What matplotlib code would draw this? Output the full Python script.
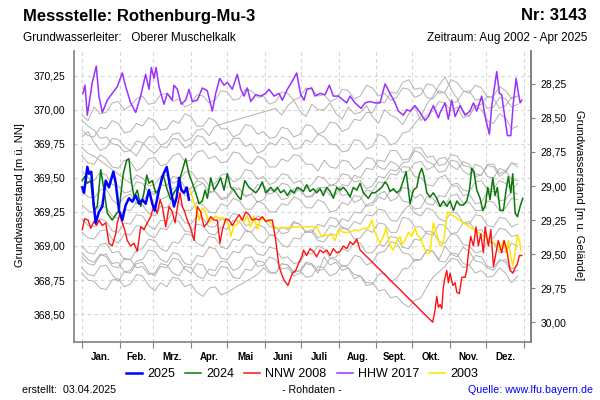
import numpy as np
import matplotlib
matplotlib.use('Agg')
import matplotlib.pyplot as plt
from matplotlib.lines import Line2D
from matplotlib.ticker import FixedLocator, FuncFormatter

plt.rcParams['font.family'] = ['Liberation Sans', 'DejaVu Sans']

# Geländehöhe [m ü. NN], used for the right axis (m u. Gelände)
ground = 398.44

month_starts = [0, 31, 59, 90, 120, 151, 181, 212, 243, 273, 304, 334, 365]
month_labels = ['Jan.', 'Feb.', 'Mrz.', 'Apr.', 'Mai', 'Juni', 'Juli', 'Aug.',
                'Sept.', 'Okt.', 'Nov.', 'Dez.']
left_ticks = [368.50, 368.75, 369.00, 369.25, 369.50, 369.75, 370.00, 370.25]
right_ticks = [28.00, 28.25, 28.50, 28.75, 29.00, 29.25, 29.50, 29.75, 30.00]

# --- highlighted years (day of year, level m ü. NN) ---
days_2025 = [0.2, 1.7, 4.4, 5.8, 7.7, 9.3, 11.3, 14.0, 16.8, 19.6, 22.3, 25.9, 27.9, 30.6,
             33.3, 36.1, 38.8, 41.6, 44.4, 47.1, 49.8, 52.6, 55.4, 58.1, 60.1, 63.6, 66.4,
             70.0, 73.3, 76.0, 78.3, 80.2, 82.1, 84.3, 86.5, 88.4]
level_2025 = [369.43, 369.39, 369.58, 369.53, 369.545, 369.34, 369.17, 369.25, 369.29, 369.48,
              369.43, 369.545, 369.46, 369.26, 369.19, 369.30, 369.35, 369.325, 369.37, 369.31,
              369.34, 369.31, 369.41, 369.31, 369.26, 369.41, 369.51, 369.58, 369.41, 369.29,
              369.36, 369.50, 369.41, 369.39, 369.43, 369.34]

days_2024 = [0.2, 2.2, 4.4, 7.2, 9.9, 12.6, 15.5, 18.2, 20.9, 25.0, 27.9, 30.6, 34.1, 36.9,
             38.8, 40.7, 43.0, 45.7, 48.5, 51.2, 53.5, 55.4, 58.1, 60.9, 63.6, 67.2, 70.5,
             73.3, 76.0, 78.8, 82.1, 85.7, 88.4, 91.2, 94.0, 96.7, 99.4, 101.7, 103.6, 106.4,
             109.1, 111.8, 114.6, 117.4, 120.1, 122.9, 125.6, 128.3, 131.2, 134.5, 138.0,
             140.7, 143.6, 146.3, 149.0, 151.8, 156.0, 158.7, 161.4, 164.2, 166.9, 169.7,
             172.5, 175.2, 177.9, 180.2, 182.9, 185.7, 188.4, 191.2, 193.9, 196.7, 199.4,
             202.2, 205.0, 207.7, 210.5, 213.2, 216.0, 218.8, 221.5, 224.2, 227.0, 229.8,
             232.5, 236.6, 239.4, 242.1, 244.9, 247.7, 250.4, 252.3, 254.5, 257.3, 260.1,
             262.8, 265.5, 267.8, 269.7, 271.1, 273.8, 276.6, 278.8, 280.7, 282.6, 284.9,
             287.6, 290.3, 293.1, 295.9, 298.6, 301.4, 304.1, 306.9, 309.7, 312.4, 315.1,
             317.9, 320.1, 322.1, 323.9, 326.2, 328.9, 331.2, 333.1, 335.3, 337.2, 339.4,
             341.3, 343.2, 345.5, 348.2, 350.4, 352.3, 354.3, 355.9, 357.9, 359.8, 362.0, 364.2]
level_2024 = [369.48, 369.51, 369.46, 369.48, 369.26, 369.29, 369.56, 369.41, 369.24, 369.19,
              369.23, 369.26, 369.53, 369.63, 369.64, 369.48, 369.36, 369.41, 369.29, 369.39,
              369.52, 369.46, 369.48, 369.39, 369.41, 369.52, 369.41, 369.34, 369.39, 369.43,
              369.53, 369.64, 369.53, 369.46, 369.39, 369.31, 369.33, 369.41, 369.35, 369.50,
              369.41, 369.45, 369.50, 369.41, 369.53, 369.43, 369.41, 369.37, 369.34, 369.48,
              369.43, 369.41, 369.39, 369.42, 369.47, 369.39, 369.43, 369.40, 369.43, 369.39,
              369.41, 369.37, 369.41, 369.39, 369.43, 369.42, 369.40, 369.45, 369.40, 369.42,
              369.39, 369.42, 369.37, 369.43, 369.40, 369.35, 369.43, 369.41, 369.43, 369.40,
              369.36, 369.43, 369.41, 369.46, 369.39, 369.35, 369.39, 369.39, 369.41, 369.43,
              369.47, 369.45, 369.40, 369.42, 369.39, 369.41, 369.48, 369.545, 369.41, 369.31,
              369.41, 369.43, 369.53, 369.57, 369.51, 369.39, 369.36, 369.39, 369.35, 369.29,
              369.33, 369.29, 369.33, 369.26, 369.33, 369.30, 369.30, 369.33, 369.41, 369.57,
              369.545, 369.41, 369.35, 369.26, 369.29, 369.43, 369.34, 369.50, 369.37, 369.43,
              369.26, 369.26, 369.41, 369.51, 369.39, 369.53, 369.24, 369.215, 369.29, 369.35]

days_2008 = [0.2, 2.2, 5.0, 7.2, 9.9, 12.1, 14.0, 16.8, 19.6, 22.3, 25.0, 27.9, 29.2, 31.4,
             33.3, 35.3, 37.4, 40.2, 43.0, 45.7, 48.5, 51.2, 54.0, 56.8, 59.5, 62.2, 64.5,
             66.4, 69.2, 71.9, 74.6, 76.9, 79.3, 81.0, 82.9, 84.9, 87.0, 89.8, 92.6, 95.3,
             98.1, 100.8, 103.6, 106.4, 109.1, 111.8, 114.0, 116.0, 118.8, 121.5, 124.2,
             127.0, 129.8, 132.5, 135.3, 138.0, 140.7, 143.6, 146.3, 149.0, 151.8, 154.5,
             157.3, 160.1, 162.8, 164.7, 166.9, 170.2, 173.8, 176.6, 179.3, 182.1, 182.9,
             185.7, 188.4, 191.2, 193.9, 196.7, 199.4, 202.2, 205.0, 207.7, 210.5, 213.2,
             216.0, 218.8, 221.5, 224.2, 227.0, 229.8, 289.8, 291.7, 293.1, 294.5, 295.9,
             297.3, 298.6, 300.0, 301.4, 302.7, 304.1, 306.4, 308.3, 309.7, 311.8, 313.8,
             316.5, 317.9, 319.3, 321.2, 323.4, 325.6, 327.5, 329.5, 331.7, 333.1, 335.8,
             337.8, 340.0, 342.1, 344.0, 346.8, 348.8, 351.0, 353.7, 356.0, 357.9, 359.8,
             361.4, 363.4]
level_2008 = [369.12, 369.20, 369.19, 369.13, 369.18, 369.15, 369.19, 369.15, 369.17, 369.02,
              369.00, 369.09, 369.17, 369.24, 369.17, 369.12, 369.04, 369.00, 369.02, 368.96,
              369.14, 369.12, 369.17, 369.215, 369.30, 369.24, 369.34, 369.29, 369.14, 369.29,
              369.25, 369.17, 369.31, 369.39, 369.29, 369.25, 369.19, 369.13, 369.04, 369.29,
              369.25, 369.14, 369.17, 369.215, 369.19, 369.19, 369.02, 369.12, 369.20, 369.19,
              369.15, 369.19, 369.23, 369.19, 369.25, 369.23, 369.19, 369.20, 369.19, 369.215,
              369.18, 369.19, 369.19, 369.04, 368.85, 368.80, 368.75, 368.71, 368.80, 368.82,
              368.88, 368.93, 368.97, 368.93, 368.98, 368.96, 368.92, 368.97, 368.95, 368.97,
              368.93, 368.98, 368.95, 368.96, 369.00, 368.98, 369.03, 369.01, 369.05, 368.97,
              368.44, 368.53, 368.63, 368.55, 368.57, 368.54, 368.70, 368.77, 368.82, 368.73,
              368.80, 368.71, 368.73, 368.66, 368.65, 368.77, 368.77, 368.82, 368.95, 369.07,
              369.00, 369.14, 369.00, 369.09, 368.95, 369.14, 369.00, 369.12, 368.85, 368.95,
              369.04, 368.95, 369.04, 368.97, 368.82, 368.80, 368.84, 368.87, 368.93, 368.93]

days_2017 = [0.8, 2.5, 4.4, 8.5, 11.8, 14.0, 16.8, 20.9, 25.0, 29.2, 33.3, 36.1, 40.2, 44.4,
             48.5, 52.6, 55.4, 57.3, 59.5, 61.2, 63.6, 67.8, 70.5, 74.6, 76.0, 78.8, 82.1,
             85.7, 88.4, 91.2, 95.3, 99.4, 103.5, 107.7, 110.5, 113.8, 117.4, 120.1, 124.2,
             128.3, 131.2, 133.9, 136.6, 139.4, 143.5, 147.7, 151.8, 154.5, 158.7, 162.8,
             165.5, 169.7, 173.8, 177.4, 180.7, 183.5, 185.8, 189.8, 192.6, 196.7, 200.8,
             204.4, 207.7, 211.8, 215.9, 218.7, 221.5, 225.6, 230.6, 233.9, 238.0, 242.1,
             246.3, 250.4, 254.5, 258.7, 261.4, 265.5, 268.3, 271.1, 275.2, 279.3, 283.5,
             286.2, 290.3, 294.5, 295.9, 300.0, 302.7, 305.5, 308.3, 312.4, 316.5, 320.6,
             323.4, 326.2, 330.3, 333.1, 336.6, 338.6, 342.7, 344.9, 346.8, 349.6, 351.5,
             354.3, 356.4, 358.7, 360.6, 362.0, 363.4]
level_2017 = [370.12, 370.18, 369.96, 370.20, 370.32, 370.10, 369.98, 370.07, 370.12, 370.17,
              370.27, 370.17, 370.05, 369.98, 370.10, 370.26, 370.15, 370.31, 370.23, 370.31,
              370.17, 370.04, 370.12, 370.07, 370.18, 370.15, 370.04, 370.07, 370.15, 370.06,
              370.07, 370.16, 370.14, 369.99, 370.12, 370.23, 370.18, 370.20, 370.15, 370.26,
              370.15, 370.10, 370.16, 370.06, 370.11, 370.10, 370.12, 370.15, 370.10, 370.12,
              370.07, 370.15, 370.21, 370.27, 370.11, 370.07, 370.15, 370.16, 370.10, 370.12,
              370.11, 370.18, 370.10, 370.10, 370.07, 370.05, 370.10, 370.05, 370.01, 370.05,
              370.06, 370.05, 370.05, 370.19, 370.12, 370.05, 369.99, 369.96, 370.00, 369.99,
              370.03, 369.98, 369.92, 369.95, 370.03, 369.94, 369.98, 370.05, 369.93, 370.07,
              369.95, 370.03, 369.96, 369.99, 370.05, 369.99, 370.10, 369.95, 369.82, 370.03,
              370.28, 370.12, 370.11, 369.93, 369.81, 369.81, 370.05, 370.23, 370.12, 370.05,
              370.07]

days_2003 = [88.4, 89.8, 92.6, 95.3, 96.7, 99.4, 102.2, 105.0, 107.7, 110.5, 113.2, 116.0,
             118.8, 121.5, 122.9, 125.6, 128.3, 131.2, 133.9, 136.6, 139.4, 142.1, 144.9,
             147.7, 151.8, 156.0, 158.7, 180.2, 193.9, 196.7, 199.4, 202.2, 206.4, 209.1,
             211.8, 216.0, 221.5, 225.6, 228.3, 232.5, 236.6, 239.4, 242.1, 246.3, 249.0,
             251.2, 254.5, 257.3, 260.1, 262.8, 264.2, 266.9, 269.7, 272.5, 275.2, 277.1,
             279.3, 282.1, 284.9, 287.6, 290.3, 293.1, 295.9, 298.6, 300.3, 301.9, 344.0,
             345.5, 348.2, 350.4, 352.3, 354.3, 355.9, 357.9, 359.8, 361.4, 362.6]
level_2003 = [369.42, 369.40, 369.31, 369.25, 369.19, 369.28, 369.25, 369.17, 369.20, 369.22,
              369.20, 369.21, 369.19, 369.15, 369.07, 369.15, 369.16, 369.20, 369.18, 369.22,
              369.14, 369.22, 369.12, 369.20, 369.19, 369.17, 369.13, 369.14, 369.14, 369.09,
              369.07, 369.08, 369.08, 369.04, 369.12, 369.10, 369.10, 369.12, 369.11, 369.13,
              369.13, 369.19, 369.10, 369.02, 369.07, 369.13, 369.00, 368.97, 369.04, 369.07,
              369.01, 369.04, 369.10, 369.07, 369.13, 369.08, 369.06, 369.00, 368.95, 368.95,
              369.17, 369.09, 369.00, 369.02, 369.14, 369.25, 369.00, 368.97, 369.04, 368.95,
              369.04, 368.92, 368.86, 368.95, 369.08, 369.04, 368.97]

# --- other years (grey), read every 5 days; nan = gap in the record ---
nan = np.nan
gray_days = np.arange(0, 361, 5)
gray_01 = [369.96, 369.92, 370.02, 369.97, 369.98, 370.05, 370.06, 370.00, 370.03, 370.08, 370.10, 370.04,
           370.05, 370.11, 370.12, 370.06, 370.08, 370.02, 370.04, 370.11, 370.10, 370.05, 370.07, 370.14,
           370.13, 370.07, 370.08, 370.15, 370.14, 370.09, 370.10, 370.04, 370.06, 370.13, 370.12, 370.07,
           370.09, 370.16, 370.15, 370.10, 370.11, 370.06, 370.08, 370.15, 370.14, 370.08, 370.10, 370.18,
           370.16, 370.10, 370.12, 370.07, 370.09, 370.16, 370.15, 370.09, 370.11, 370.19, 370.18, 370.12,
           370.13, 370.22, 370.20, 370.14, 370.12, 370.18, 370.16, 370.09, 370.10, 370.17, 370.14, 370.08,
           370.10]
gray_02 = [369.80, 369.84, 369.76, 369.70, 369.72, 369.79, 369.78, 369.73, 369.70, 369.66, 369.74, 369.80,
           369.80, 369.74, 369.76, 369.82, 369.83, 369.77, 369.79, 369.85, 369.86, 369.81, 369.88, nan,
           nan, nan, nan, nan, nan, nan, nan, nan, 370.01, 369.96, 370.03, 370.07,
           369.99, 369.95, 370.04, 370.00, 370.00, 370.05, 369.97, 369.93, 370.02, 369.97, 369.98, 370.03,
           369.95, 369.90, 370.00, 369.96, 369.94, 369.89, 369.97, 370.02, 369.92, 369.96, 369.99, 370.06,
           370.05, 369.99, 370.02, 369.94, 369.96, 370.03, 370.04, 370.10, 370.08, 370.01, 370.03, 370.09,
           370.10]
gray_03 = [369.92, 369.88, 369.85, 369.79, 369.80, 369.75, 369.74, 369.69, 369.70, 369.77, 369.76, 369.71,
           369.68, 369.73, 369.72, 369.79, 369.78, 369.72, 369.74, 369.81, 369.80, 369.74, 369.76, 369.70,
           369.72, 369.79, 369.79, 369.73, 369.75, 369.68, 369.70, 369.76, 369.74, 369.80, 369.78, 369.71,
           369.72, 369.78, 369.76, 369.82, 369.80, 369.75, 369.74, 369.69, 369.70, 369.78, 369.77, 369.71,
           369.73, 369.82, 369.80, 369.74, 369.76, 369.83, 369.84, 369.90, 369.95, 370.04, 370.10, 370.18,
           370.24, 370.15, 370.08, 369.99, 369.95, 370.03, 370.00, 369.92, 369.90, 369.97, 369.94, 369.86,
           369.88]
gray_04 = [369.66, 369.61, 369.60, 369.67, 369.64, 369.58, 369.57, 369.63, 369.62, 369.55, 369.58, 369.64,
           369.65, 369.59, 369.60, 369.66, 369.68, 369.62, 369.63, 369.69, 369.70, 369.64, 369.66, 369.61,
           369.62, 369.69, 369.68, 369.62, 369.60, 369.66, 369.64, 369.58, 369.58, 369.64, 369.62, 369.67,
           369.66, 369.60, 369.60, 369.55, 369.63, 369.58, 369.57, 369.63, 369.62, 369.56, 369.59, 369.65,
           369.64, 369.58, 369.56, 369.62, 369.60, 369.54, 369.55, 369.61, 369.62, 369.56, 369.58, 369.64,
           369.65, 369.59, 369.56, 369.62, 369.60, 369.53, 369.52, 369.59, 369.58, 369.51, 369.54, 369.61,
           369.60]
gray_05 = [369.72, 369.68, 369.66, nan, nan, nan, nan, nan, 369.46, 369.52, 369.50, 369.44,
           369.45, 369.51, 369.52, 369.46, 369.48, 369.54, 369.55, 369.49, 369.50, 369.44, 369.46, 369.52,
           369.53, 369.47, 369.49, 369.56, 369.55, 369.49, 369.51, 369.45, 369.47, 369.53, 369.52, 369.46,
           369.48, 369.42, 369.45, 369.51, 369.50, 369.44, 369.46, 369.53, 369.52, 369.47, 369.48, 369.42,
           369.44, 369.51, 369.50, 369.56, 369.55, 369.61, 369.62, 369.70, 369.68, 369.62, 369.60, 369.54,
           369.55, 369.63, 369.62, 369.55, 369.52, 369.60, 369.58, 369.51, 369.50, 369.57, 369.55, 369.49,
           369.48]
gray_06 = [369.40, 369.36, 369.35, 369.41, 369.42, 369.34, 369.30, 369.36, 369.38, 369.31, 369.33, 369.39,
           369.40, 369.34, 369.36, 369.42, 369.44, 369.37, 369.38, 369.44, 369.46, 369.39, 369.40, 369.34,
           369.35, 369.41, 369.42, 369.36, 369.38, 369.32, 369.34, 369.41, 369.40, 369.46, 369.45, 369.38,
           369.42, 369.36, 369.36, 369.42, 369.40, 369.45, 369.44, 369.37, 369.38, 369.32, 369.34, 369.41,
           369.40, 369.47, 369.46, 369.53, 369.52, 369.58, 369.58, 369.51, 369.50, 369.45, 369.44, 369.50,
           369.52, 369.45, 369.46, 369.41, 369.40, 369.47, 369.48, 369.41, 369.42, 369.48, 369.46, 369.41,
           369.46]
gray_07 = [369.30, 369.26, 369.24, 369.30, 369.28, 369.22, 369.20, 369.27, 369.26, 369.32, 369.30, 369.24,
           369.22, 369.29, 369.28, 369.34, 369.32, 369.26, 369.26, 369.32, 369.30, 369.25, 369.24, 369.31,
           369.29, 369.35, 369.33, 369.27, 369.27, 369.33, 369.31, 369.25, 369.25, 369.31, 369.30, 369.36,
           369.34, 369.28, 369.28, 369.34, 369.32, 369.25, 369.26, 369.32, 369.30, 369.37, 369.36, 369.29,
           369.30, 369.36, 369.34, 369.41, 369.40, 369.33, 369.32, 369.27, 369.28, 369.36, 369.35, 369.29,
           369.30, 369.37, 369.38, 369.31, 369.32, 369.26, 369.26, 369.33, 369.32, 369.26, 369.28, 369.35,
           369.34]
gray_08 = [369.10, 369.06, 369.05, 369.11, 369.12, 369.05, 369.02, 369.09, 369.08, 369.15, 369.14, 369.08,
           369.06, 369.13, 369.12, 369.19, 369.18, 369.11, 369.10, 369.16, 369.15, 369.09, 369.08, 369.14,
           369.12, 369.19, 369.18, 369.12, 369.10, 369.16, 369.14, 369.08, 369.08, 369.14, 369.12, 369.18,
           369.16, 369.10, 369.10, 369.16, 369.14, 369.21, 369.20, 369.13, 369.12, 369.18, 369.16, 369.23,
           369.22, 369.27, 369.26, 369.19, 369.18, 369.25, 369.30, 369.24, 369.22, 369.28, 369.26, 369.20,
           369.18, 369.25, 369.24, 369.17, 369.16, 369.23, 369.22, 369.15, 369.14, 369.21, 369.20, 369.14,
           369.16]
gray_09 = [369.00, 368.95, 368.94, 369.01, 369.02, 368.95, 368.96, 368.90, 368.90, 368.97, 368.98, 369.05,
           369.04, 368.98, 368.96, 369.03, 369.02, 369.09, 369.08, 369.02, 369.00, 369.07, 369.06, 368.99,
           368.98, 369.05, 369.04, 369.11, 369.10, 369.04, 369.02, 369.08, 369.07, 369.01, 368.99, 369.06,
           369.05, 369.11, 369.10, 369.04, 369.03, 369.09, 369.08, 369.14, 369.12, 369.05, 369.06, 369.12,
           369.10, 369.17, 369.16, 369.10, 369.10, 369.21, 369.20, 369.14, 369.14, 369.09, 369.08, 369.16,
           369.15, 369.09, 369.10, 369.17, 369.18, 369.11, 369.12, 369.05, 369.06, 369.13, 369.12, 369.07,
           369.08]
gray_10 = [368.92, 368.87, 368.86, 368.93, 368.94, 368.87, 368.88, 368.81, 368.82, 368.89, 368.90, 368.97,
           368.96, 368.90, 368.88, 368.95, 368.94, 368.87, 368.86, 368.93, 368.92, 368.99, 368.98, 368.91,
           368.90, 368.96, 368.95, 369.01, 369.00, 368.94, 368.93, 368.99, 368.98, 368.91, 368.92, 368.87,
           368.88, 368.95, 368.94, 369.00, 368.98, 368.91, 368.92, 368.98, 368.96, 369.03, 369.02, 368.95,
           368.95, 369.01, 369.00, 369.07, 369.06, 368.99, 368.98, 369.05, 369.04, 369.11, 369.10, 369.03,
           369.02, 369.09, 369.08, 369.01, 369.00, 368.95, 368.96, 369.03, 369.02, 368.95, 368.96, 369.02,
           369.00]
gray_11 = [368.84, 368.79, 368.78, 368.85, 368.86, 368.79, 368.74, 368.81, 368.80, 368.87, 368.88, 368.81,
           368.78, 368.85, 368.84, 368.91, 368.90, 368.83, 368.80, 368.87, 368.86, 368.79, 368.78, 368.85,
           368.84, 368.77, 368.76, 368.83, 368.82, 368.89, 368.88, 368.81, 368.80, 368.87, 368.86, 368.80,
           368.82, 368.77, 368.78, 368.85, 368.84, 368.91, 368.90, 368.85, 368.86, 368.93, 368.92, 368.86,
           368.88, 368.95, 368.96, 369.03, 369.02, 368.95, 368.94, 368.89, 368.90, 368.97, 368.96, 368.89,
           368.88, 368.95, 368.94, 368.87, 368.86, 368.93, 368.92, 368.85, 368.84, 368.90, 368.88, 368.81,
           368.82]
gray_12 = [368.80, 368.75, 368.74, 368.69, 368.68, 368.75, 368.76, 368.70, 368.72, 368.79, 368.78, 368.71,
           368.67, 368.73, 368.70, 368.77, 368.76, 368.70, 368.72, 368.66, 368.63, 368.69, 368.70, 368.64,
           368.66, nan, nan, nan, nan, 368.79, 368.84, 368.80, 368.80, 368.87, 368.86, 368.81,
           368.82, 368.88, 368.87, 368.82, 368.83, 368.78, 368.80, 368.86, 368.84, 368.79, 368.78, 368.73,
           368.73, 368.67, 368.68, 368.62, 368.63, 368.58, 368.55, 368.60, 368.62, 368.70, 368.77, 368.81,
           368.85, 368.91, 368.90, 368.84, 368.86, 368.80, 368.82, 368.77, 368.78, 368.84, 368.80, 368.73,
           368.78]
gray_13 = [368.95, 368.90, 368.88, 368.94, 368.92, 368.85, 368.84, 368.91, 368.90, 368.84, 368.85, 368.79,
           368.80, 368.87, 368.86, 368.80, 368.78, 368.85, 368.84, 368.78, 368.76, 368.83, 368.82, 368.89,
           368.88, 368.82, 368.84, 368.91, 368.92, 368.85, 368.86, 368.92, 368.90, 368.83, 368.84, 368.78,
           368.80, 368.87, 368.86, 368.80, 368.92, 368.86, 368.88, 368.82, 368.84, 368.76, 368.78, 368.71,
           368.72, 368.79, 368.80, 368.74, 368.76, 368.83, 368.84, 368.90, 368.90, 368.97, 368.96, 368.90,
           369.00, 368.94, 368.92, 368.99, 368.96, 368.89, 368.88, 368.84, 368.82, 368.89, 368.90, 368.83,
           368.86]
gray_14 = [369.20, 369.15, 369.14, 369.20, 369.18, 369.11, 369.10, 369.17, 369.16, 369.23, 369.22, 369.15,
           369.12, 369.19, 369.18, 369.25, 369.24, 369.17, 369.16, 369.22, 369.20, 369.14, 369.14, 369.20,
           369.18, 369.24, 369.22, 369.15, 369.16, 369.22, 369.20, 369.14, 369.14, 369.09, 369.10, 369.17,
           369.16, 369.10, 369.12, 369.06, 369.08, 369.15, 369.14, 369.20, 369.18, 369.25, 369.24, 369.30,
           369.32, 369.38, 369.40, 369.33, 369.35, 369.43, 369.42, 369.35, 369.38, 369.31, 369.30, 369.37,
           369.36, 369.44, 369.44, 369.37, 369.38, 369.31, 369.32, 369.40, 369.40, 369.33, 369.34, 369.40,
           369.38]
gray_15 = [369.55, 369.50, 369.48, 369.54, 369.52, 369.45, 369.44, 369.39, 369.40, 369.47, 369.46, 369.39,
           369.38, 369.45, 369.44, 369.51, 369.50, 369.43, 369.42, 369.48, 369.46, 369.40, 369.40, 369.35,
           369.36, 369.43, 369.42, 369.37, 369.38, 369.45, 369.44, 369.38, 369.40, 369.34, 369.35, 369.42,
           369.41, 369.36, 369.37, 369.43, 369.43, 369.37, 369.38, 369.45, 369.44, 369.52, 369.50, 369.57,
           369.56, 369.63, 369.62, 369.70, 369.70, 369.63, 369.64, 369.72, 369.72, 369.65, 369.66, 369.59,
           369.60, 369.67, 369.66, 369.59, 369.58, 369.51, 369.52, 369.60, 369.60, 369.53, 369.55, 369.61,
           369.58]
gray_16 = [369.85, 369.81, 369.80, 369.87, 369.86, 369.92, 369.90, 369.83, 369.84, 369.90, 369.88, 369.94,
           369.92, 369.85, 369.86, 369.92, 369.90, 369.97, 369.95, 369.88, 369.88, 369.94, 369.92, 369.86,
           369.86, 369.80, 369.82, 369.89, 369.88, 369.82, 369.84, 369.79, 369.80, 369.87, 369.86, 369.80,
           369.82, 369.89, 369.88, 369.82, 369.84, 369.91, 369.90, 369.84, 369.86, 369.93, 369.92, 369.98,
           369.98, 370.06, 370.05, 370.13, 370.12, 370.20, 370.22, 370.15, 370.16, 370.09, 370.08, 370.14,
           370.12, 370.05, 370.06, 370.13, 370.14, 370.07, 370.08, 370.01, 370.02, 370.09, 370.08, 370.02,
           370.04]
gray_years = [gray_01, gray_02, gray_03, gray_04, gray_05, gray_06, gray_07, gray_08,
              gray_09, gray_10, gray_11, gray_12, gray_13, gray_14, gray_15, gray_16]

fig = plt.figure(figsize=(6, 4), dpi=100)
ax = fig.add_axes([74 / 600, 1 - 342 / 400, 457 / 600, 291 / 400])

for g in gray_years:
    g = np.array(g)
    ok = ~np.isnan(g)
    ax.plot(gray_days[ok], g[ok], color='#b2b2b2', lw=0.7)

ax.plot(days_2003, level_2003, color='#ffe400', lw=1.1)
ax.plot(days_2017, level_2017, color='#9b30ff', lw=1.1)
ax.plot(days_2008, level_2008, color='#ff1010', lw=1.0)
ax.plot(days_2024, level_2024, color='#0a780a', lw=1.1)
ax.plot(days_2025, level_2025, color='#0000ff', lw=1.8)

ax.set_xlim(-6.6, 371)
ax.set_ylim(368.295, 370.431)

# month boundaries as grid, names in between
ax.xaxis.set_major_locator(FixedLocator(month_starts))
ax.xaxis.set_major_formatter(FuncFormatter(lambda v, p: ''))
mids = [(month_starts[i] + month_starts[i + 1]) / 2 for i in range(12)]
ax.xaxis.set_minor_locator(FixedLocator(mids))
ax.set_xticklabels(month_labels, minor=True)
ax.tick_params(axis='x', which='minor', length=0, pad=7, labelsize=7)
ax.tick_params(axis='x', which='major', length=4, color='#808080')
for t in ax.get_xticklabels(minor=True):
    t.set_fontweight('bold')

ax.set_yticks(left_ticks)
ax.yaxis.set_major_formatter(FuncFormatter(lambda v, p: f'{v:.2f}'.replace('.', ',')))
ax.tick_params(axis='y', length=0, pad=6, labelsize=7.5)
ax.grid(True, color='#d4d4d4', linestyle=(0, (3, 3)), linewidth=0.8)

for side in ['left', 'bottom', 'right']:
    ax.spines[side].set_color('#808080')
    ax.spines[side].set_linewidth(1.2)
ax.spines['top'].set_visible(False)

sec = ax.secondary_yaxis('right', functions=(lambda v: ground - v, lambda d: ground - d))
sec.set_yticks(right_ticks)
sec.yaxis.set_major_formatter(FuncFormatter(lambda v, p: f'{v:.2f}'.replace('.', ',')))
sec.tick_params(axis='y', length=3, color='#808080', pad=4, labelsize=7.5)
sec.spines['right'].set_color('#808080')
sec.spines['right'].set_linewidth(1.2)

fig.text(20 / 600, 1 - 195 / 400, 'Grundwasserstand [m ü. NN]', rotation=90,
         ha='center', va='center', fontsize=8)
fig.text(579 / 600, 1 - 195 / 400, 'Grundwasserstand [m u. Gelände]', rotation=270,
         ha='center', va='center', fontsize=8)

# header
fig.text(23 / 600, 1 - 16 / 400, 'Messstelle: Rothenburg-Mu-3', fontsize=12,
         fontweight='bold', ha='left', va='center')
fig.text(587 / 600, 1 - 16 / 400, 'Nr: 3143', fontsize=12, fontweight='bold',
         ha='right', va='center')
fig.text(23 / 600, 1 - 38 / 400, 'Grundwasserleiter:   Oberer Muschelkalk', fontsize=8.5,
         ha='left', va='center')
fig.text(587 / 600, 1 - 38 / 400, 'Zeitraum: Aug 2002 - Apr 2025', fontsize=8.5,
         ha='right', va='center')

# legend
handles = [Line2D([], [], color='#0000ff', lw=1.8), Line2D([], [], color='#0a780a', lw=1.1),
           Line2D([], [], color='#ff1010', lw=1.1), Line2D([], [], color='#9b30ff', lw=1.1),
           Line2D([], [], color='#ffe400', lw=1.1)]
fig.legend(handles, ['2025', '2024', 'NNW 2008', 'HHW 2017', '2003'], loc='center',
           bbox_to_anchor=(302 / 600, 1 - 374 / 400), ncol=5, frameon=False, fontsize=9,
           handlelength=1.3, handletextpad=0.4, columnspacing=0.8)

# footer
fig.text(22 / 600, 1 - 390 / 400, 'erstellt:  03.04.2025', fontsize=7.7, ha='left', va='center')
fig.text(312 / 600, 1 - 390 / 400, '- Rohdaten -', fontsize=7.7, ha='center', va='center')
fig.text(593 / 600, 1 - 390 / 400, 'Quelle: www.lfu.bayern.de', fontsize=7.7, ha='right',
         va='center', color='#0000ff')

fig.savefig('out.png', dpi=100)
